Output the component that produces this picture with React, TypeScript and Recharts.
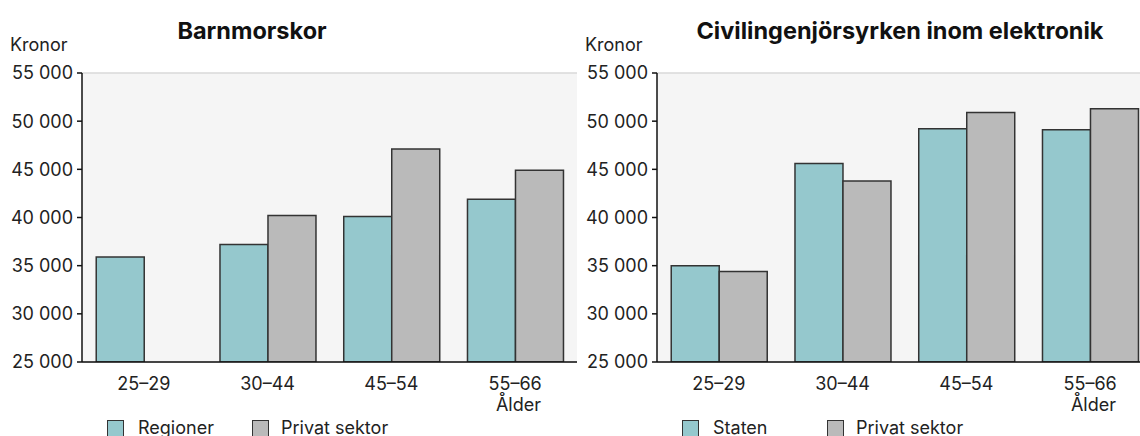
import React from 'react';
import { BarChart, Bar, XAxis, YAxis, CartesianGrid } from 'recharts';

const ageGroups = ['25–29', '30–44', '45–54', '55–66'];
const regionerValues = [35900, 37200, 40100, 41900];
const privatBarnmorskor = [null, 40200, 47100, 44900];
const statenValues = [35000, 45600, 49200, 49100];
const privatCiving = [34400, 43800, 50900, 51300];
const yTicks = [25000, 30000, 35000, 40000, 45000, 50000, 55000];

const TEAL = '#95c8cd';
const GRAY = '#bababa';
const FONT = 'Inter, "Noto Sans", sans-serif';
const FS = 18;

const fmt = (v: number) => {
  const s = String(v);
  return s.slice(0, s.length - 3) + '\u00a0' + s.slice(-3);
};

interface PanelProps {
  left: number;
  title: string;
  titleX: number;
  firstName: string;
  first: (number | null)[];
  second: (number | null)[];
}

const swatch = (x: number, color: string): React.CSSProperties => ({
  position: 'absolute', left: x, top: 420, width: 15, height: 15,
  background: color, border: '1.5px solid #333',
});

const label = (x: number, y: number): React.CSSProperties => ({
  position: 'absolute', left: x, top: y, fontFamily: FONT, fontSize: FS,
  color: '#222', whiteSpace: 'nowrap', lineHeight: '20px',
});

// one panel: title, y label, bar chart and legend (right panel runs past the page edge)
const Panel: React.FC<PanelProps> = ({ left, title, titleX, firstName, first, second }) => {
  const data = ageGroups.map((g, i) => ({ name: g, a: first[i], b: second[i] }));
  const axisStroke = { stroke: '#111', strokeWidth: 1.5 };

  return (
    <div style={{ position: 'absolute', left, top: 0, width: 580, height: 436 }}>
      <div style={{ position: 'absolute', left: titleX, top: 16, fontFamily: FONT, fontWeight: 700, fontSize: 23.5, color: '#111', whiteSpace: 'nowrap', transform: 'translateX(-50%)' }}>
        {title}
      </div>
      <div style={label(10, 35)}>Kronor</div>
      <BarChart
        width={580}
        height={436}
        data={data}
        margin={{ top: 73, right: 3, left: 0, bottom: 0 }}
        barCategoryGap="11.5%"
        barGap={0}
      >
        <CartesianGrid vertical={false} fill="#f5f5f5" stroke="#d9d9d9" strokeWidth={1.5} />
        <XAxis
          dataKey="name"
          xAxisId="bottom"
          height={74}
          axisLine={axisStroke}
          tickLine={false}
          tickMargin={9}
          fontSize={FS}
          tick={{ fill: '#222', fontSize: FS, fontFamily: FONT }}
          interval={0}
        />
        <XAxis dataKey="name" xAxisId="top" orientation="top" height={0} tick={false} tickLine={false} axisLine={axisStroke} />
        <YAxis
          yAxisId="left"
          width={82}
          domain={[25000, 55000]}
          ticks={yTicks}
          tickFormatter={fmt}
          axisLine={axisStroke}
          tickLine={axisStroke}
          tickSize={5}
          tickMargin={4}
          fontSize={FS}
          tick={{ fill: '#222', fontSize: FS, fontFamily: FONT }}
          allowDataOverflow
        />
        <YAxis yAxisId="right" orientation="right" width={0} tick={false} tickLine={false} axisLine={axisStroke} domain={[25000, 55000]} />
        <Bar dataKey="a" name={firstName} xAxisId="bottom" yAxisId="left" fill={TEAL} stroke="#333" strokeWidth={1.5} isAnimationActive={false} />
        <Bar dataKey="b" name="Privat sektor" xAxisId="bottom" yAxisId="left" fill={GRAY} stroke="#333" strokeWidth={1.5} isAnimationActive={false} />
      </BarChart>
      <div style={{ ...label(0, 395), width: 541, textAlign: 'right' }}>Ålder</div>
      <div style={swatch(107, TEAL)} />
      <div style={label(138, 418)}>{firstName}</div>
      <div style={swatch(252, GRAY)} />
      <div style={label(281, 418)}>Privat sektor</div>
    </div>
  );
};

export default function App() {
  return (
    <div style={{ position: 'relative', width: 1140, height: 436, background: '#fff', overflow: 'hidden' }}>
      <style>{`body{margin:0}`}</style>
      <Panel left={0} title="Barnmorskor" titleX={252} firstName="Regioner" first={regionerValues} second={privatBarnmorskor} />
      <Panel left={575} title="Civilingenjörsyrken inom elektronik" titleX={325} firstName="Staten" first={statenValues} second={privatCiving} />
    </div>
  );
}
